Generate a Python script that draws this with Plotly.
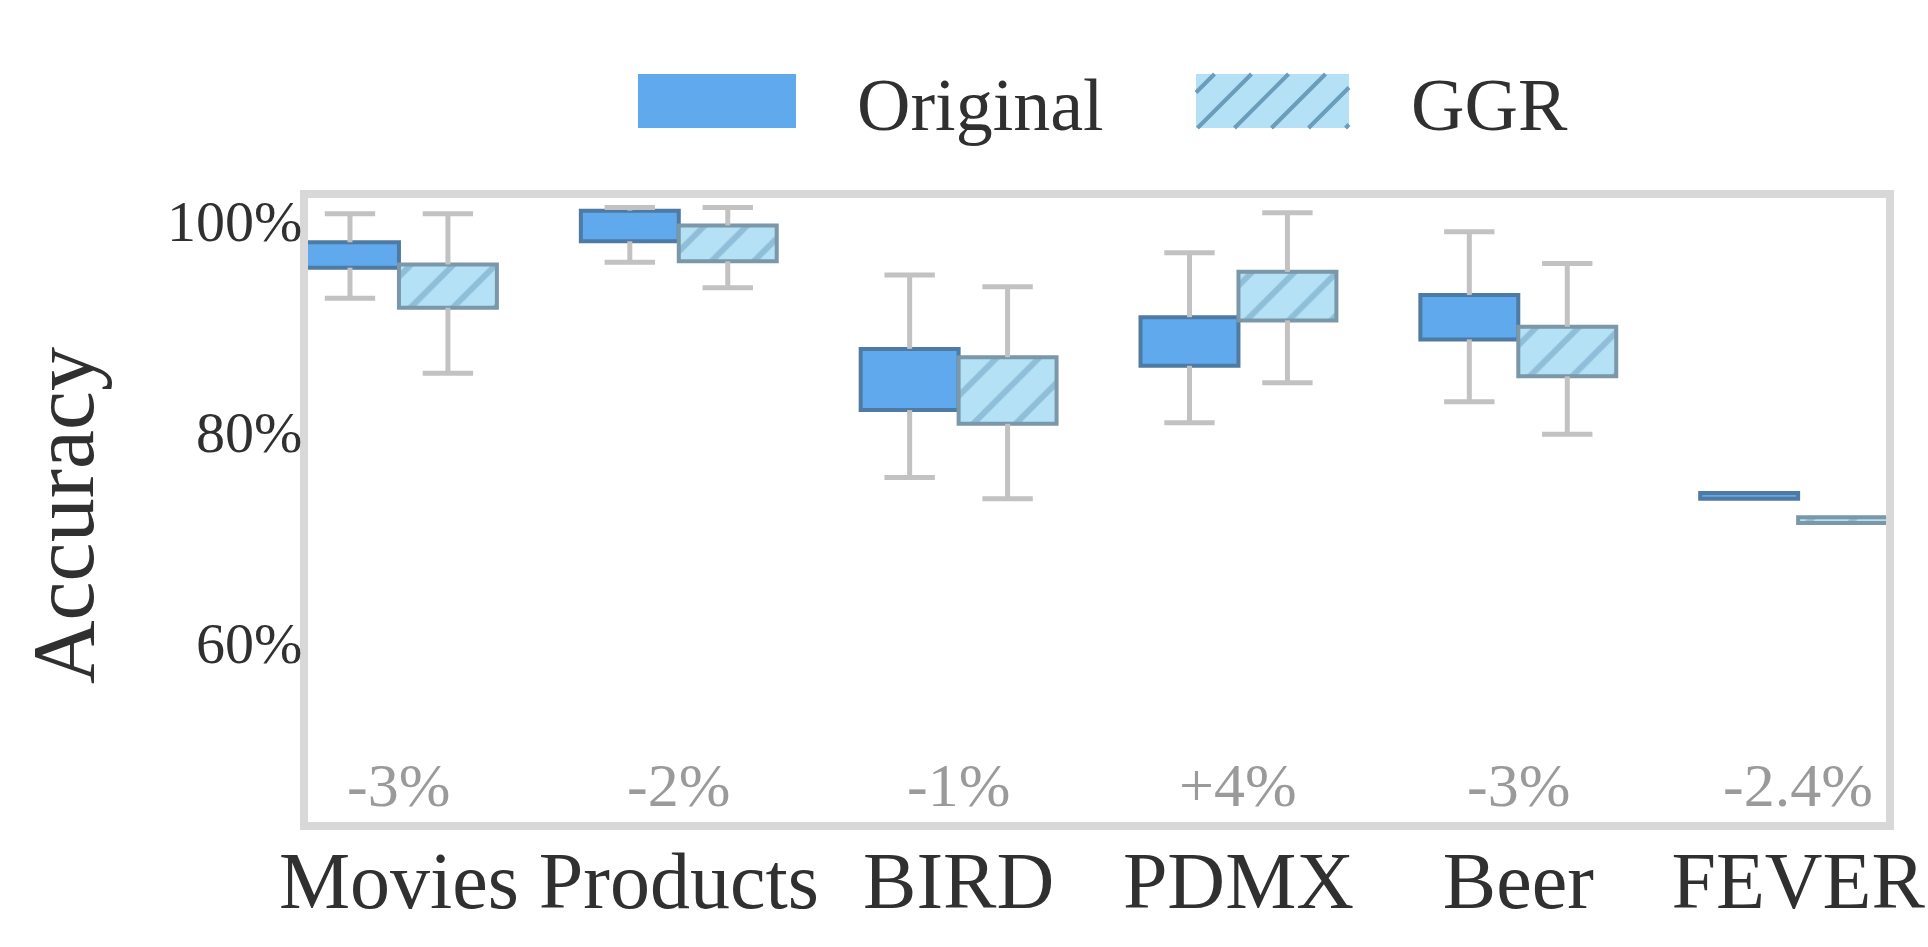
import plotly.graph_objects as go

# ---- data -------------------------------------------------------------
categories = ["Movies", "Products", "BIRD", "PDMX", "Beer", "FEVER"]

# Original: whisker ends and quartiles (accuracy, %)
orig_lower = [91.4, 94.8, 74.4, 79.6, 81.6, 72.4]
orig_q1 = [94.3, 96.8, 80.8, 85.0, 87.5, 72.4]
orig_q3 = [96.7, 99.7, 86.6, 89.6, 91.7, 72.95]
orig_upper = [99.4, 100.0, 93.6, 95.7, 97.7, 72.95]

# GGR: whisker ends and quartiles (accuracy, %)
ggr_lower = [84.3, 92.4, 72.4, 83.4, 78.5, 70.1]
ggr_q1 = [90.5, 94.9, 79.5, 89.3, 84.0, 70.1]
ggr_q3 = [94.6, 98.3, 85.8, 93.9, 88.7, 70.65]
ggr_upper = [99.4, 100.0, 92.5, 99.5, 94.7, 70.65]

delta_labels = ["-3%", "-2%", "-1%", "+4%", "-3%", "-2.4%"]

y_tickvals = [60, 80, 100]
y_ticktext = ["60%", "80%", "100%"]

# ---- styling ----------------------------------------------------------
FONT = "Liberation Serif"
TEXT = "#303030"
ORIG_FILL, ORIG_EDGE = "#60a9ec", "#4e7aa3"
GGR_FILL, GGR_EDGE, GGR_HATCH = "#b4e1f5", "#7b97a8", "#6a9dbc"
WHISKER = "#c2c2c2"
FRAME = "#d8d8d8"

W, H = 1928, 947
ML, MR, MT, MB = 308, 42, 198, 125
PW, PH = W - ML - MR, H - MT - MB

BOX_W = 0.35
CAP = 0.09


def px_to_paper(x, y):
    return (x - ML) / PW, (H - MB - y) / PH


def whisker_xy(centers, lower, q1, q3, upper):
    """Whisker segments plus caps; a whisker of zero length is not drawn."""
    xs, ys = [], []
    for c, lo, a, b, hi in zip(centers, lower, q1, q3, upper):
        if hi > b:
            xs += [c, c, None, c - CAP, c + CAP, None]
            ys += [b, hi, None, hi, hi, None]
        if lo < a:
            xs += [c, c, None, c - CAP, c + CAP, None]
            ys += [a, lo, None, lo, lo, None]
    return xs, ys


idx = list(range(len(categories)))
orig_x = [i - BOX_W / 2 for i in idx]
ggr_x = [i + BOX_W / 2 for i in idx]

fig = go.Figure()

# box bodies (q1..q3)
fig.add_trace(go.Bar(
    x=orig_x, y=[b - a for a, b in zip(orig_q1, orig_q3)], base=orig_q1,
    width=BOX_W, name="Original", showlegend=False,
    marker=dict(color=ORIG_FILL, line=dict(color=ORIG_EDGE, width=4)),
))
fig.add_trace(go.Bar(
    x=ggr_x, y=[b - a for a, b in zip(ggr_q1, ggr_q3)], base=ggr_q1,
    width=BOX_W, name="GGR", showlegend=False,
    marker=dict(color=GGR_FILL, line=dict(color=GGR_EDGE, width=4),
                pattern=dict(shape="/", fgcolor=GGR_HATCH, size=30, solidity=0.2)),
))

# whiskers with caps
for xs_c, lo, a, b, hi in [(orig_x, orig_lower, orig_q1, orig_q3, orig_upper),
                           (ggr_x, ggr_lower, ggr_q1, ggr_q3, ggr_upper)]:
    wx, wy = whisker_xy(xs_c, lo, a, b, hi)
    fig.add_trace(go.Scatter(x=wx, y=wy, mode="lines", showlegend=False,
                             line=dict(color=WHISKER, width=5), hoverinfo="skip"))

annotations = []
shapes = []

# change labels near the bottom of each group
for i, txt in zip(idx, delta_labels):
    annotations.append(dict(x=i, xref="x", y=px_to_paper(0, 785)[1], yref="paper",
                            text=txt, showarrow=False, xanchor="center", yanchor="middle",
                            font=dict(family=FONT, size=62, color="#9a9a9a")))

# y-axis title
tx, ty = px_to_paper(63, 516)
annotations.append(dict(x=tx, y=ty, xref="paper", yref="paper", text="Accuracy",
                        textangle=-90, showarrow=False, xanchor="center", yanchor="middle",
                        font=dict(family=FONT, size=88, color=TEXT)))


# legend: patches and labels
def legend_patch(x0, y0, x1, y1, fill, hatch=None):
    a0, b0 = px_to_paper(x0, y1)
    a1, b1 = px_to_paper(x1, y0)
    shapes.append(dict(type="rect", xref="paper", yref="paper", x0=a0, y0=b0, x1=a1, y1=b1,
                       fillcolor=fill, line=dict(width=0), layer="above"))
    if hatch:
        step = 37
        k = x0 + y0 + step / 2
        while k < x1 + y1:
            xa = max(x0, k - y1)
            xb = min(x1, k - y0)
            if xb > xa:
                p0 = px_to_paper(xa, k - xa)
                p1 = px_to_paper(xb, k - xb)
                shapes.append(dict(type="line", xref="paper", yref="paper",
                                   x0=p0[0], y0=p0[1], x1=p1[0], y1=p1[1],
                                   line=dict(color=hatch, width=4), layer="above"))
            k += step


legend_patch(638, 74, 796, 128, ORIG_FILL)
legend_patch(1196, 74, 1349, 128, GGR_FILL, GGR_HATCH)
for label, lx in [("Original", 855), ("GGR", 1409)]:
    ax_, ay_ = px_to_paper(lx, 105)
    annotations.append(dict(x=ax_, y=ay_, xref="paper", yref="paper", text=label,
                            showarrow=False, xanchor="left", yanchor="middle",
                            font=dict(family=FONT, size=74, color=TEXT)))

fig.update_layout(
    width=W, height=H,
    margin=dict(l=ML, r=MR, t=MT, b=MB, autoexpand=False),
    paper_bgcolor="white", plot_bgcolor="white",
    barmode="overlay", showlegend=False,
    annotations=annotations, shapes=shapes,
    font=dict(family=FONT, color=TEXT),
)
fig.update_xaxes(
    range=[-0.325, 5.314], tickmode="array", tickvals=idx, ticktext=categories,
    tickfont=dict(family=FONT, size=80, color=TEXT), ticklabelstandoff=-18,
    showgrid=False, zeroline=False, ticks="",
    showline=True, linecolor=FRAME, linewidth=8, mirror=True,
)
fig.update_yaxes(
    range=[41.76, 100.9], tickmode="array", tickvals=y_tickvals, ticktext=y_ticktext,
    tickfont=dict(family=FONT, size=58, color=TEXT),
    ticklabelstandoff=-14, ticklabelshift=13,
    showgrid=False, zeroline=False, ticks="",
    showline=True, linecolor=FRAME, linewidth=8, mirror=True,
)

fig.write_html("out.html")
